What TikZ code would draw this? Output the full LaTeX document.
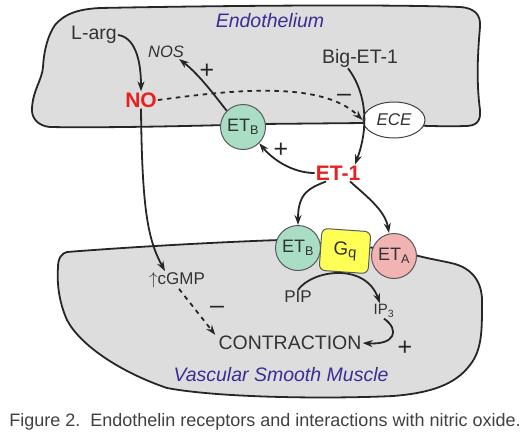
\documentclass[tikz,border=0pt]{standalone}
\usepackage{fontspec}
\setmainfont{Liberation Sans}
\usetikzlibrary{arrows.meta,shapes.geometric}
\definecolor{cellgray}{HTML}{DDDDDD}
\definecolor{txt}{HTML}{333333}
\definecolor{lbl}{HTML}{3A2D94}
\definecolor{nored}{HTML}{E8201E}
\definecolor{etbgreen}{HTML}{A9DEC4}
\definecolor{etapink}{HTML}{F2B3B3}
\definecolor{gqyellow}{HTML}{FFFF55}
\newcommand{\fs}[1]{\fontsize{#1}{#1}\selectfont}
\begin{document}
\begin{tikzpicture}[x=1pt,y=-1pt,
 cell/.style={fill=cellgray,draw=black!85,line width=1.8pt},
 conn/.style={draw=black!85,line width=1.8pt,-{Stealth[length=10pt,width=7pt]}},
 dconn/.style={conn,dash pattern=on 4.5pt off 4.5pt},
 lab/.style={text=txt,font=\fs{19.5},inner sep=1pt},
 title/.style={text=lbl,font=\fs{19.5}\itshape,inner sep=1pt},
 key/.style={text=nored,font=\fs{21}\bfseries,inner sep=1pt},
 sign/.style={text=black!85,font=\fs{25},inner sep=0pt},
 rcpt/.style={circle,draw=black!65,line width=1pt,minimum size=45pt,inner sep=0pt,text=txt,font=\fs{18}},
]
\useasboundingbox (0,0) rectangle (520,442);
% Endothelium cell
\draw[cell] (100,8) .. controls (200,6) and (380,4) .. (460,7)
  .. controls (475,8) and (481,15) .. (480,27)
  .. controls (478,50) and (476,80) .. (480,110)
  .. controls (481,122) and (476,126) .. (465,126)
  .. controls (440,127) and (400,125) .. (365,123)
  -- (260,124) .. controls (200,126) and (100,128) .. (50,127)
  .. controls (38,126) and (31,118) .. (32,108)
  .. controls (33,90) and (42,80) .. (43,67)
  .. controls (44,50) and (48,35) .. (55,25)
  .. controls (65,13) and (80,9) .. (100,8) -- cycle;
% Smooth muscle cell
\draw[cell] (67,252) .. controls (130,247) and (220,242) .. (280,240)
  -- (400,250) .. controls (420,258) and (440,260) .. (455,264)
  .. controls (475,270) and (483,285) .. (482,305)
  .. controls (482,330) and (482,350) .. (470,365)
  .. controls (455,385) and (430,393) .. (393,396)
  .. controls (330,399) and (220,398) .. (167,388)
  .. controls (120,372) and (80,345) .. (67,320)
  .. controls (58,300) and (57,280) .. (58,267)
  .. controls (58,258) and (62,253) .. (67,252) -- cycle;

\node[title] (endo) at (270,21) {Endothelium};
\node[lab] (larg) at (94,35) {L-arg};
\node[lab,font=\fs{16.5}\itshape] (nos) at (166,52) {NOS};
\node[key] (no) at (141,100) {NO};
\node[rcpt,fill=etbgreen] (etb1) at (243,127) {ET\textsubscript{B}};
\node[lab] (big) at (360,58) {Big-ET-1};
\node[ellipse,draw=black!75,line width=1pt,fill=white,minimum width=62pt,minimum height=36pt,inner sep=0pt,text=txt,font=\fs{17}\itshape] (ece) at (394,120) {ECE};
\node[key] (et1) at (338,173) {ET-1};
\node[rcpt,fill=etbgreen] (etb2) at (298,248) {ET\textsubscript{B}};
\node[draw=black!65,line width=1pt,fill=gqyellow,rounded corners=6pt,minimum width=49pt,minimum height=42pt,rotate=-4,inner sep=0pt,text=txt,font=\fs{19}] (gq) at (345,251) {G\raisebox{-2pt}{\fs{15}q}};
\node[rcpt,fill=etapink] (eta) at (394,256) {ET\textsubscript{A}};
\node[lab,font=\fs{17}] (pip) at (298,297) {PIP};
\node[lab,font=\fs{15}] (ip3) at (384,311) {IP\textsubscript{3}};
\node[lab] (contr) at (290,343) {CONTRACTION};
\node[title] (musc) at (281,375) {Vascular Smooth Muscle};
\node[lab,font=\fs{17}] (cgmp) at (177,280) {$\uparrow$cGMP};
\node[sign] (p1) at (207,71) {+};
\node[sign] (m1) at (344,98) {--};
\node[sign] (p2) at (281,150) {+};
\node[sign] (m2) at (217,310) {--};
\node[sign] (p3) at (405,348) {+};
\node[text=black!75,font=\fs{18}] (cap) at (265,422) {Figure 2.\ \ Endothelin receptors and interactions with nitric oxide.};

% connectors
\draw[conn] (larg.east) .. controls (134,37) and (141,58) .. (no.north);
\draw[conn] (etb1.north west) .. controls (218,100) and (200,75) .. ([xshift=-6pt]nos.south east);
\draw[dconn] (no.east) .. controls (220,92) and (320,78) .. (ece.west);
\draw[conn] ([xshift=-12pt]big.south) .. controls (368,95) and (368,130) .. ([xshift=17pt]et1.north);
\draw[conn] (et1.west) .. controls (295,173) and (275,162) .. (etb1.south east);
\draw[conn] ([xshift=-12pt]et1.south) .. controls (310,188) and (298,192) .. (etb2.north);
\draw[conn] ([xshift=12pt]et1.south) .. controls (365,195) and (385,210) .. ([xshift=-5pt]eta.north);
\draw[conn] (no.south) .. controls (142,210) and (148,240) .. ([xshift=-12pt]cgmp.north);
\draw[dconn] ([xshift=2pt]cgmp.south) -- ([xshift=-2pt]contr.north west);
\draw[conn] (pip.north) .. controls (312,270) and (365,262) .. ([xshift=-4pt]ip3.north);
\draw[conn] (ip3.south) .. controls (400,330) and (395,345) .. (contr.east);
\end{tikzpicture}
\end{document}
